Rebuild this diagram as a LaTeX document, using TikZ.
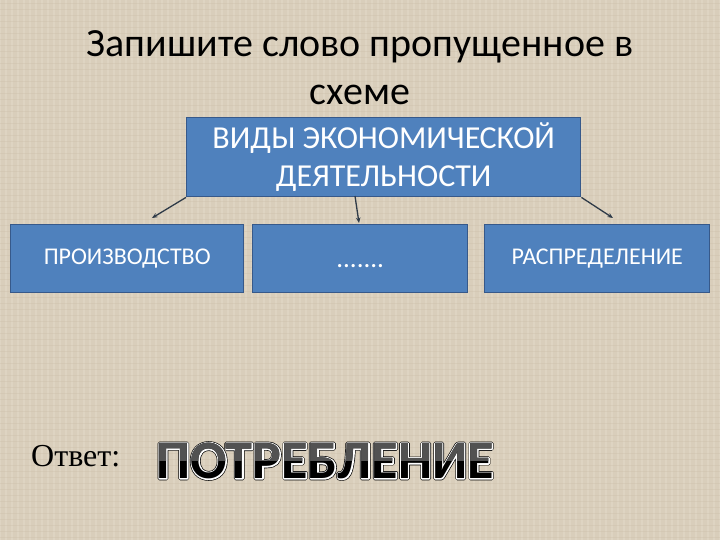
\documentclass[tikz,border=0pt]{standalone}
\usepackage{fontspec}
\setmainfont{Carlito}
\newfontfamily\tnr{Liberation Serif}
\newfontfamily\ansouter{Carlito Bold}[FakeBold=7]
\newfontfamily\ansinner{Carlito Bold}[FakeBold=4.5]
\newfontfamily\ansplain{Carlito Bold}
\usetikzlibrary{arrows.meta,calc}
\definecolor{bgc}{HTML}{D9CEBB}
\definecolor{bgl}{HTML}{E6DDCE}
\definecolor{bgd}{HTML}{C9BCA6}
\definecolor{boxfill}{HTML}{4F81BD}
\definecolor{boxline}{HTML}{37598A}
\definecolor{arr}{HTML}{2F3B48}
\tikzset{
  bluebox/.style={draw=boxline, line width=1.4pt, fill=boxfill, text=white, inner sep=0pt, anchor=north west},
  conn/.style={draw=arr, line width=1.3pt, -{Stealth[length=5.5pt,width=4.5pt]}},
}
\begin{document}
\begin{tikzpicture}[x=1pt,y=-1pt]
\useasboundingbox (0,0) rectangle (720,540);
\fill[bgc] (0,0) rectangle (720,540);
% linen texture
\foreach \i in {0,6,...,720} {\draw[bgl, line width=1.2pt, opacity=0.4] (\i,0) -- (\i,540);}
\foreach \j in {3,9,...,540} {\draw[bgd, line width=0.8pt, opacity=0.3] (0,\j) -- (720,\j);}
% title
\node[font=\fontsize{40}{48}\selectfont, align=center, text=black] (title) at (360,68) {Запишите слово пропущенное в\\схеме};
% top box
\node[bluebox, minimum width=394pt, minimum height=79pt, font=\fontsize{32}{38}\selectfont, align=center] (top) at (186,117) {ВИДЫ ЭКОНОМИЧЕСКОЙ\\ДЕЯТЕЛЬНОСТИ};
% bottom boxes
\node[bluebox, minimum width=233pt, minimum height=68pt, font=\fontsize{24}{28}\selectfont] (prod) at (10,224) {ПРОИЗВОДСТВО};
\node[bluebox, minimum width=215pt, minimum height=68pt, font=\fontsize{27}{30}\selectfont, text height=18pt, text depth=0pt] (mid) at (252,224) {.......};
\node[bluebox, minimum width=225pt, minimum height=68pt, font=\fontsize{24}{28}\selectfont] (distr) at (484,224) {РАСПРЕДЕЛЕНИЕ};
% connectors
\coordinate (e1) at (152,218);
\coordinate (e2) at (359,223);
\coordinate (e3) at (613,218);
\coordinate (s2) at (355,196);
\draw[conn] (top.south west) -- (e1);
\draw[conn] (s2) -- (e2);
\draw[conn] (top.south east) -- (e3);
% answer
\node[font=\tnr\fontsize{32}{36}\selectfont, anchor=base west, inner sep=0pt] (otv) at (31,466) {Ответ:};
\coordinate (ansc) at (325,461);
\begin{scope}[line join=round, miter limit=1]
\node[font=\ansouter\fontsize{54}{60}\selectfont, text=black] (ansA) at (ansc) {ПОТРЕБЛЕНИЕ};
\node[font=\ansinner\fontsize{54}{60}\selectfont, text=white] (ansB) at (ansc) {ПОТРЕБЛЕНИЕ};
\end{scope}
\node[font=\ansplain\fontsize{54}{60}\selectfont, text=black] (ans) at (ansc) {ПОТРЕБЛЕНИЕ};
\begin{scope}
\clip (140,430) rectangle (520,460);
\node[font=\ansplain\fontsize{54}{60}\selectfont, text=black!68] (ansT) at (ansc) {ПОТРЕБЛЕНИЕ};
\end{scope}
\end{tikzpicture}
\end{document}
